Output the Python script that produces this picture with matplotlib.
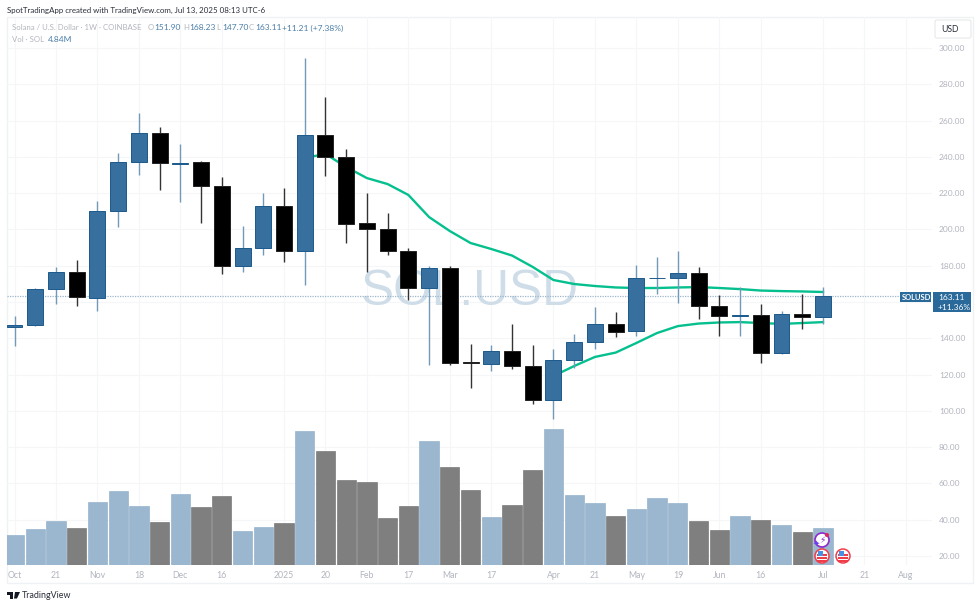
import matplotlib
matplotlib.use('Agg')
import matplotlib.pyplot as plt
from matplotlib.patches import Rectangle, Circle, FancyBboxPatch, Polygon
from matplotlib.transforms import IdentityTransform

# weekly SOLUSD candles
opens = [146.2, 147.3, 167.1, 176.5, 162.2, 210.1, 237.2, 253.1, 236.3, 237.2,
         223.9, 179.8, 189.7, 212.9, 188.0, 252.0, 239.9, 203.5, 200.2, 188.0,
         167.7, 178.7, 127.0, 125.8, 133.0, 124.7, 106.0, 128.0, 137.9, 147.9,
         144.0, 173.0, 173.2, 176.0, 157.8, 152.5, 152.8, 131.9, 153.4, 151.9]
highs = [152.3, 167.6, 179.3, 183.1, 215.7, 242.1, 264.2, 256.5, 247.1, 237.6,
         228.9, 201.9, 220.1, 222.8, 294.5, 273.0, 244.3, 220.0, 209.0, 189.7,
         179.8, 179.8, 136.8, 136.3, 147.9, 136.3, 134.1, 142.3, 157.2, 154.5,
         180.4, 184.8, 188.0, 179.3, 163.8, 168.2, 158.9, 155.0, 164.4, 168.23]
lows = [135.7, 146.7, 158.9, 157.8, 155.0, 201.3, 230.0, 221.7, 215.1, 203.5,
        175.4, 176.5, 185.9, 182.0, 169.4, 229.4, 192.5, 176.5, 185.9, 161.0,
        125.3, 125.3, 112.6, 122.0, 123.0, 103.8, 95.5, 123.6, 134.1, 140.7,
        141.2, 164.4, 159.4, 150.6, 141.2, 141.2, 126.4, 131.3, 145.0, 147.7]
closes = [147.3, 167.1, 176.5, 162.5, 210.1, 237.2, 253.1, 236.6, 236.6, 223.9,
          179.8, 189.7, 212.9, 188.0, 252.0, 239.9, 203.0, 200.2, 188.0, 167.7,
          178.7, 126.4, 126.4, 133.0, 124.7, 106.0, 128.0, 137.9, 147.9, 143.4,
          173.2, 173.2, 176.0, 157.8, 152.3, 153.0, 131.9, 153.4, 151.7, 163.11]
volumes = [3.92, 4.71, 5.76, 4.84, 8.24, 9.68, 7.72, 5.62, 9.29, 7.59,
           9.03, 4.45, 4.97, 5.49, 17.53, 14.91, 11.12, 10.86, 6.15, 7.72,
           16.22, 12.82, 9.81, 6.28, 7.85, 12.43, 17.79, 9.16, 8.11, 6.41,
           7.32, 8.76, 8.11, 5.76, 4.58, 6.41, 5.89, 5.23, 4.32, 4.84]

# green lines: upper starts at bar 14, lower at bar 26
upper_line = [239.4, 241.6, 234.4, 228.3, 225.0, 219.0, 206.8, 199.1, 192.5, 189.2,
              185.6, 179.3, 172.1, 169.9, 168.8, 168.0, 167.7, 167.7, 168.0, 168.2,
              167.7, 167.1, 166.3, 166.0, 165.8, 165.5]
lower_line = [119.2, 124.7, 129.7, 132.1, 137.4, 142.9, 146.7, 148.1, 148.7, 148.9,
              148.4, 147.9, 148.4, 148.9]

x_tick_bars = [0, 2, 4, 6, 8, 10, 13, 15, 17, 19, 21, 23, 26, 28, 30, 32, 34, 36, 39, 41, 43]
x_tick_labels = ['Oct', '21', 'Nov', '18', 'Dec', '16', '2025', '20', 'Feb', '17', 'Mar',
                 '17', 'Apr', '21', 'May', '19', 'Jun', '16', 'Jul', '21', 'Aug']
price_ticks = [20, 40, 60, 80, 100, 120, 140, 160, 180, 200, 220, 240, 260, 280, 300]
last_price = 163.11

W, H = 980, 607
BLUE = '#376f9f'
BLUE_EDGE = '#1c5a8c'
BLUE_WICK = '#7399b8'
VOL_BLUE = '#9bb7cf'
GREEN = '#05c08e'
LABEL = '#b2b5be'
FONT = 'Lato'
XLIM = ((6.5 - 14.5) / 20.73, (932 - 14.5) / 20.73)
YLIM = (15, 317.1)


def px(x, y):
    return (x, H - y)


def put_text(fig, x, y, s, color='#b2b5be', size=6.6, ha='left', weight='normal', family=FONT):
    fig.text(x / W, 1 - y / H, s, color=color, fontsize=size, ha=ha, va='center',
             fontweight=weight, family=family, zorder=20)


def add_box(fig, x0, y0, x1, y1, **kw):
    fig.add_artist(Rectangle(px(x0, y1), x1 - x0, y1 - y0, transform=IdentityTransform(), **kw))


def flag_icon(fig, x, y):
    fig.add_artist(Circle(px(x, y), 7, transform=IdentityTransform(), fc='white', ec='#ef3e4a', lw=1.1, zorder=12))
    for dy in (-1, 2, 5):
        fig.add_artist(Rectangle(px(x - 5, y + dy + 0.6), 10, 1.2, transform=IdentityTransform(),
                                 fc='#ef3e4a', ec='none', zorder=13))
    fig.add_artist(Rectangle(px(x - 4.5, y - 0.2), 5, 4.6, transform=IdentityTransform(),
                             fc='#4a90e2', ec='none', zorder=14))


def draw_candles(ax):
    for i in range(len(opens)):
        up = closes[i] >= opens[i]
        wick = BLUE_WICK if up else '#333333'
        ax.plot([i, i], [lows[i], highs[i]], color=wick, lw=1.0, zorder=4, solid_capstyle='butt')
        ax.bar(i, abs(closes[i] - opens[i]), bottom=min(opens[i], closes[i]), width=0.77,
               color=BLUE if up else 'black', edgecolor=BLUE_EDGE if up else '#222222',
               linewidth=0.7, zorder=5)


def main():
    fig = plt.figure(figsize=(W / 100, H / 100), dpi=100, facecolor='white')

    # chart frame
    add_box(fig, 6.5, 17, 973, 583, fc='white', ec='#eff1f4', lw=1.0, zorder=0)

    rect = [6.5 / W, 1 - 565 / H, (932 - 6.5) / W, (565 - 17) / H]

    # grid sits under the volume bars, candles and labels on top
    bg = fig.add_axes(rect, zorder=1)
    bg.patch.set_visible(False)
    bg.set_xlim(*XLIM)
    bg.set_ylim(*YLIM)
    bg.set_xticks(x_tick_bars)
    bg.set_yticks(price_ticks)
    bg.tick_params(length=0, labelbottom=False, labelleft=False)
    bg.grid(True, color='#f5f6f8', lw=0.8)
    for spine in bg.spines.values():
        spine.set_visible(False)

    vol = fig.add_axes(rect, zorder=2)
    vol.patch.set_visible(False)
    bars = range(len(volumes))
    colors = [VOL_BLUE if closes[i] >= opens[i] else '#7f7f7f' for i in bars]
    edges = ['#8aaac6' if closes[i] >= opens[i] else '#6a6a6a' for i in bars]
    vol.bar(bars, volumes, width=0.93, color=colors, edgecolor=edges, linewidth=0.4)
    vol.set_xlim(*XLIM)
    vol.set_ylim(0, 71.68)
    vol.axis('off')

    ax = fig.add_axes(rect, zorder=3)
    ax.patch.set_visible(False)
    ax.text(0.5, 1 - (292 - 17) / 548, 'SOL.USD', transform=ax.transAxes,
            ha='center', va='center', fontsize=35.7, color='#cfdde9', family='Liberation Sans', zorder=1)

    ax.axhline(last_price, color='#9cb6cb', lw=0.9, ls=(0, (1, 1)), zorder=2)
    ax.plot(range(14, 14 + len(upper_line)), upper_line, color=GREEN, lw=1.7, zorder=3)
    ax.plot(range(26, 26 + len(lower_line)), lower_line, color=GREEN, lw=1.7, zorder=3)
    draw_candles(ax)

    ax.set_xlim(*XLIM)
    ax.set_ylim(*YLIM)
    ax.set_xticks(x_tick_bars)
    ax.set_xticklabels(x_tick_labels)
    ax.yaxis.tick_right()
    ax.set_yticks(price_ticks)
    ax.set_yticklabels(['' if p == 160 else '%.2f' % p for p in price_ticks])
    ax.tick_params(axis='x', length=0, labelsize=6.3, labelcolor=LABEL, pad=4)
    ax.tick_params(axis='y', length=0, labelsize=6.0, labelcolor=LABEL, pad=5)
    for label in ax.get_xticklabels() + ax.get_yticklabels():
        label.set_family(FONT)
    for spine in ax.spines.values():
        spine.set_visible(False)

    # header and legend
    put_text(fig, 7, 10, 'SpotTradingApp created with TradingView.com, Jul 13, 2025 08:13 UTC-6',
             color='#2a2e39', size=5.65)
    put_text(fig, 12, 28, 'Solana / U.S. Dollar · 1W · COINBASE', size=5.55)
    for x, letter, value in [(148, 'O', '151.90'), (183, 'H', '168.23'), (216, 'L', '147.70'), (249, 'C', '163.11')]:
        put_text(fig, x, 28, letter, size=5.55)
        put_text(fig, x + 6, 28, value, color='#4a7ea8', size=6.0)
    put_text(fig, 282, 28, '+11.21 (+7.38%)', color='#4a7ea8', size=6.0)
    put_text(fig, 12, 39, 'Vol · SOL', size=5.55)
    put_text(fig, 48, 39, '4.84M', color='#4a7ea8', size=6.0)

    # USD box
    fig.add_artist(FancyBboxPatch(px(935, 38), 36, 18, boxstyle='round,pad=0,rounding_size=2',
                                  transform=IdentityTransform(), fc='white', ec='#e6e8ec', lw=0.8, zorder=10))
    put_text(fig, 941, 29.5, 'USD', color='#2a2e39', size=6.2)

    # last price tags
    add_box(fig, 900, 292, 931, 302, fc='#2a6a9b', ec='none', zorder=10)
    add_box(fig, 933, 292, 971, 312, fc='#2a6a9b', ec='none', zorder=10)
    put_text(fig, 902, 297, 'SOLUSD', color='white', size=5.5, weight='bold')
    put_text(fig, 938, 297, '163.11', color='white', size=6.0)
    put_text(fig, 938, 307, '+11.36%', color='white', size=6.0)

    # event icons
    flag_icon(fig, 822, 556)
    flag_icon(fig, 843, 556)
    fig.add_artist(Circle(px(822, 540), 7, transform=IdentityTransform(), fc='white', ec='#8a2bc9', lw=1.2, zorder=12))
    put_text(fig, 822, 540, '⚡', color='#8a2bc9', size=6.5, ha='center', family='DejaVu Sans')
    put_text(fig, 816, 543, '✦', color='#6a3df0', size=6, ha='center', family='DejaVu Sans')
    fig.add_artist(Circle(px(827, 535), 2, transform=IdentityTransform(), fc='#e0245e', ec='none', zorder=21))

    # TradingView mark at the bottom left
    add_box(fig, 7, 592, 13, 594.5, fc='#131722', ec='none', zorder=10)
    add_box(fig, 10, 592, 12.5, 598.5, fc='#131722', ec='none', zorder=10)
    fig.add_artist(Polygon([px(15, 592), px(20, 592), px(17, 598.5), px(14, 598.5)], transform=IdentityTransform(),
                           fc='#131722', ec='none', zorder=10))
    put_text(fig, 22, 596, 'TradingView', color='#2a2e39', size=6.4)

    fig.savefig('out.png', dpi=100)


if __name__ == "__main__":
    main()
